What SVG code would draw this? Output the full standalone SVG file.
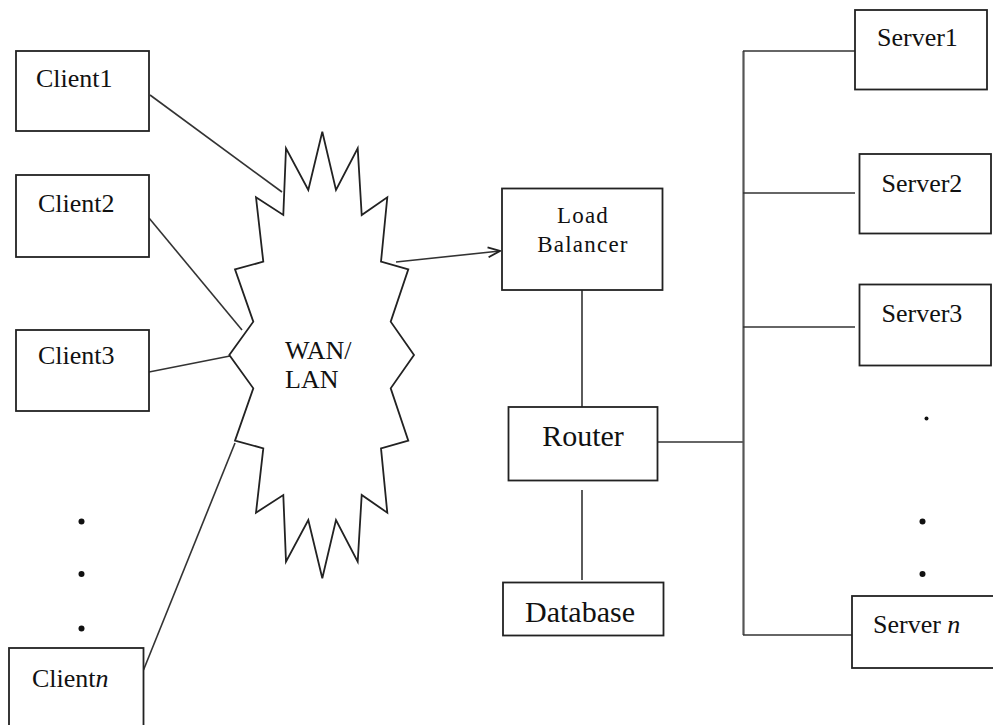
<svg xmlns="http://www.w3.org/2000/svg" width="993" height="725" viewBox="0 0 993 725">
<style>
.box{fill:#fff;stroke:#222;stroke-width:1.8}
.ln{fill:none;stroke:#333;stroke-width:1.6}
.bus{fill:none;stroke:#555;stroke-width:2.2}
.t{font-family:"Liberation Serif","Times New Roman",serif;font-size:26px;fill:#111}
.big{font-size:30px}
.lb{font-size:23px;letter-spacing:1.2px}
.dot{fill:#111}
</style>
<defs>
<marker id="arr" markerUnits="userSpaceOnUse" markerWidth="14" markerHeight="12" refX="13" refY="6" orient="auto">
<path d="M1,1 L13,6 L1,11" fill="none" stroke="#222" stroke-width="1.8"/>
</marker>
</defs>
<rect width="993" height="725" fill="#fff"/>
<g id="connectors">
<line class="ln" x1="150" y1="95" x2="282" y2="192"/>
<line class="ln" x1="149" y1="218" x2="242" y2="330"/>
<line class="ln" x1="149" y1="372" x2="230" y2="356"/>
<line class="ln" x1="235" y1="443" x2="143.5" y2="670"/>
<line class="ln" x1="396" y1="262" x2="500" y2="251" marker-end="url(#arr)"/>
<line class="ln" x1="582" y1="290" x2="582" y2="407"/>
<line class="ln" x1="582" y1="490" x2="582" y2="580"/>
<line class="ln" x1="658" y1="442" x2="743" y2="442"/>
<line class="bus" x1="743.5" y1="51" x2="743.5" y2="635"/>
<line class="ln" x1="743" y1="51" x2="855" y2="51"/>
<line class="ln" x1="743" y1="193" x2="855" y2="193"/>
<line class="ln" x1="743" y1="327" x2="855" y2="327"/>
<line class="ln" x1="743" y1="635" x2="852" y2="635"/>
</g>
<g id="client1"><rect class="box" x="16" y="51" width="133" height="80"/><text class="t" x="36" y="87">Client1</text></g>
<g id="client2"><rect class="box" x="16" y="175" width="133" height="82"/><text class="t" x="38" y="212">Client2</text></g>
<g id="client3"><rect class="box" x="16" y="330" width="133" height="81"/><text class="t" x="38" y="364">Client3</text></g>
<g id="client-dots"><circle class="dot" cx="81.5" cy="521.5" r="3"/><circle class="dot" cx="81.5" cy="574" r="3"/><circle class="dot" cx="81.5" cy="628.5" r="3"/></g>
<g id="clientn"><rect class="box" x="9" y="648" width="134.5" height="90"/><text class="t" x="32" y="687">Client<tspan font-style="italic">n</tspan></text></g>
<g id="wan-lan">
<polygon class="box" points="322.3,131.7 336,190 357.7,148.3 361.7,215 387.3,197.3 381,261.7 408.3,269.3 390.7,321.7 414,355 390.7,388.3 408.3,440.7 381,448.3 387.3,512.7 361.7,495 357.7,561.7 336,520 322.3,578.3 308.3,520 286,561.7 283.3,495 256,512.7 263.3,448.3 235,440.7 253.3,388.3 229.3,355 253.3,321.7 235,269.3 263.3,261.7 256,197.3 283.3,215 286,148.3 308.3,190"/>
<text class="t" x="285" y="359">WAN/</text>
<text class="t" x="285" y="388">LAN</text>
</g>
<g id="load-balancer"><rect class="box" x="502" y="188.5" width="160.5" height="101.5"/><text class="t lb" x="583" y="223" text-anchor="middle">Load</text><text class="t lb" x="583" y="252" text-anchor="middle">Balancer</text></g>
<g id="router"><rect class="box" x="508.5" y="407" width="149" height="73.5"/><text class="t big" x="583" y="446" text-anchor="middle">Router</text></g>
<g id="database"><rect class="box" x="503" y="582.5" width="160.5" height="53"/><text class="t big" x="580" y="622" text-anchor="middle">Database</text></g>
<g id="server1"><rect class="box" x="855" y="10" width="132" height="79.5"/><text class="t" x="877" y="46">Server1</text></g>
<g id="server2"><rect class="box" x="859.5" y="154" width="131.5" height="79.5"/><text class="t" x="881.5" y="192">Server2</text></g>
<g id="server3"><rect class="box" x="859.5" y="284.5" width="131.5" height="81"/><text class="t" x="881.5" y="322">Server3</text></g>
<g id="server-dots"><circle class="dot" cx="926.5" cy="418.5" r="2"/><circle class="dot" cx="922.5" cy="521.5" r="3"/><circle class="dot" cx="922.5" cy="574" r="3"/></g>
<g id="servern"><rect class="box" x="852" y="596" width="150" height="72"/><text class="t" x="873" y="633">Server <tspan font-style="italic">n</tspan></text></g>
</svg>
